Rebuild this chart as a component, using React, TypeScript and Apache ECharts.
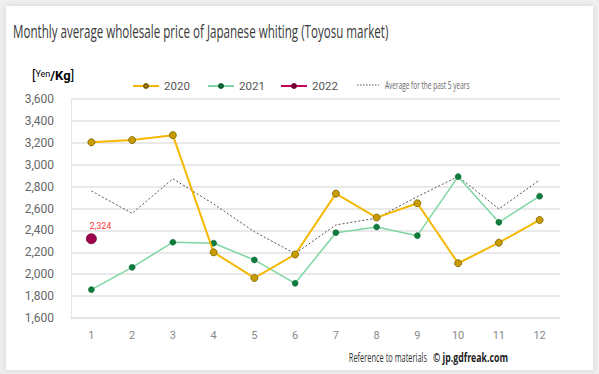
import React, { useEffect, useRef } from "react";
import * as echarts from "echarts";

const months = ["1", "2", "3", "4", "5", "6", "7", "8", "9", "10", "11", "12"];
const y2020 = [3205, 3225, 3270, 2200, 1966, 2180, 2736, 2517, 2648, 2100, 2288, 2495];
const y2021 = [1859, 2063, 2292, 2283, 2130, 1917, 2379, 2431, 2352, 2891, 2474, 2712];
const y2022 = [2324, null, null, null, null, null, null, null, null, null, null, null];
const avg5 = [2760, 2556, 2872, 2641, 2388, 2188, 2450, 2512, 2708, 2892, 2596, 2860];

const yMin = 1600;
const yMax = 3600;
const yStep = 200;

const sans = "Roboto, 'Noto Sans', sans-serif";
const open = "'Open Sans', sans-serif";

export default function App() {
  const ref = useRef<HTMLDivElement>(null);
  useEffect(() => {
    document.body.style.margin = "0";
    const chart = echarts.init(ref.current!, null, { renderer: "svg" });
    const legendText = { color: "#555", fontSize: 11.5, fontFamily: sans };
    const legBase = { top: 80, padding: 0, itemWidth: 26, itemHeight: 5, itemGap: 2, textStyle: legendText };
    chart.setOption({
      animation: false,
      backgroundColor: "#efefef",
      graphic: [
        {
          type: "rect",
          z: -10,
          silent: true,
          shape: { x: 6, y: 6, width: 587, height: 364 },
          style: { fill: "#ffffff", shadowBlur: 6, shadowColor: "rgba(0,0,0,0.12)" },
        },
        {
          type: "text",
          x: 13,
          y: 31,
          scaleX: 0.645,
          style: {
            text: "Monthly average wholesale price of Japanese whiting (Toyosu market)",
            fill: "#3a3a3a",
            fontSize: 18,
            fontFamily: open,
            verticalAlign: "middle",
          },
        },
        {
          type: "text",
          x: 32,
          y: 69,
          style: {
            text: "{b|[}{s|Yen}{k|/Kg}{b|]}",
            rich: {
              b: { fontSize: 13, color: "#444", fontFamily: sans },
              s: { fontSize: 9, color: "#555", fontFamily: sans, verticalAlign: "top", padding: [0, 0, 4, 0] },
              k: { fontSize: 13, color: "#333", fontFamily: sans, fontWeight: "bold" },
            },
          },
        },
        {
          type: "line",
          shape: { x1: 357, y1: 85, x2: 379, y2: 85 },
          style: { stroke: "#555", lineWidth: 1, lineDash: [1.5, 1.5] },
        },
        {
          type: "text",
          x: 385,
          y: 85,
          scaleX: 0.65,
          style: {
            text: "Average for the past 5 years",
            fill: "#666",
            fontSize: 10,
            fontFamily: open,
            verticalAlign: "middle",
          },
        },
        {
          type: "text",
          x: 427,
          y: 357,
          scaleX: 0.62,
          style: {
            text: "Reference to materials",
            fill: "#333",
            fontSize: 12,
            fontFamily: open,
            align: "right",
            verticalAlign: "middle",
          },
        },
        {
          type: "text",
          x: 433,
          y: 357,
          scaleX: 0.73,
          style: {
            text: "© jp.gdfreak.com",
            fill: "#222",
            fontSize: 12,
            fontWeight: "bold",
            fontFamily: open,
            verticalAlign: "middle",
          },
        },
      ],
      legend: [
        { ...legBase, data: ["2020"], left: 132 },
        { ...legBase, data: ["2021"], left: 207 },
        { ...legBase, data: ["2022"], left: 280 },
      ],
      grid: { left: 71, right: 39, top: 99, bottom: 56 },
      xAxis: {
        type: "category",
        data: months,
        boundaryGap: true,
        axisLine: { show: true, lineStyle: { color: "#e2e2e2", width: 1.5 } },
        axisTick: { show: false },
        axisLabel: { color: "#888", fontSize: 11, fontFamily: sans, margin: 12 },
      },
      yAxis: {
        type: "value",
        min: yMin,
        max: yMax,
        interval: yStep,
        axisLine: { show: true, lineStyle: { color: "#e6e6e6", width: 1 } },
        axisTick: { show: false },
        axisLabel: {
          color: "#666",
          fontSize: 12,
          fontFamily: sans,
          margin: 17,
          formatter: (v: number) => v.toLocaleString("en-US"),
        },
        splitLine: { lineStyle: { color: "#e2e2e2", width: 1.5 } },
      },
      series: [
        {
          name: "Average for the past 5 years",
          type: "line",
          data: avg5,
          symbol: "none",
          color: "#555",
          lineStyle: { color: "#555", width: 1, type: [2, 2] },
          z: 1,
        },
        {
          name: "2021",
          type: "line",
          data: y2021,
          symbol: "circle",
          symbolSize: 6,
          color: "#0d7d3d",
          lineStyle: { color: "#7fd6a2", width: 1.5 },
          itemStyle: { color: "#0d7d3d", borderColor: "#0a5a2c", borderWidth: 0.5 },
          z: 2,
        },
        {
          name: "2020",
          type: "line",
          data: y2020,
          symbol: "circle",
          symbolSize: 7,
          color: "#f5b800",
          lineStyle: { color: "#f5b800", width: 2 },
          itemStyle: { color: "#c99d00", borderColor: "#7a5d00", borderWidth: 0.8 },
          z: 3,
        },
        {
          name: "2022",
          type: "line",
          data: y2022,
          symbol: "circle",
          symbolSize: 10,
          color: "#a0004c",
          lineStyle: { color: "#c8005e", width: 2 },
          itemStyle: { color: "#a0004c", borderColor: "#6a0032", borderWidth: 0.8 },
          label: {
            show: true,
            position: "top",
            distance: 3,
            offset: [9, 0],
            color: "#ff3b3b",
            fontSize: 9,
            fontFamily: sans,
            formatter: (p: any) => Number(p.value).toLocaleString("en-US"),
          },
          z: 4,
        },
      ],
    });
    return () => chart.dispose();
  }, []);
  return <div ref={ref} style={{ width: 599, height: 374 }} />;
}
